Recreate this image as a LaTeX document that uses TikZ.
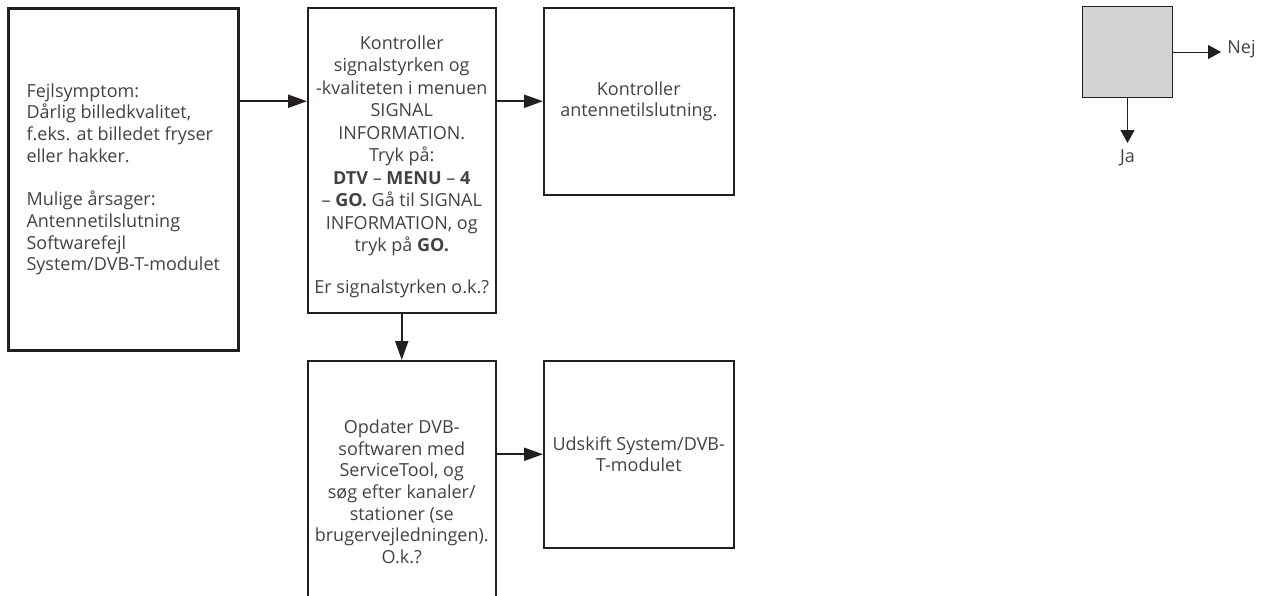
\documentclass[tikz,border=0pt]{standalone}
\usepackage{fontspec}
\setmainfont{Open Sans}
\usetikzlibrary{arrows.meta,positioning,calc}
\definecolor{ink}{HTML}{231F20}
\definecolor{keyfill}{HTML}{D3D3D5}
\tikzset{
  box/.style={draw=ink,line width=0.75pt,inner sep=0pt,anchor=north west,
    font=\fontsize{9}{10.85}\selectfont,text=ink!85},
  arrow/.style={-{Triangle[length=9.5pt,width=6.5pt]},draw=ink,line width=1pt},
  keyarrow/.style={-{Triangle[length=6.5pt,width=7pt]},draw=ink,line width=0.5pt},
  keylabel/.style={font=\fontsize{9}{10.85}\selectfont,text=ink!85,inner sep=3pt}
}

\begin{document}
\begin{tikzpicture}[x=0.5pt,y=-0.5pt]
  \useasboundingbox (0,0) rectangle (1267,595);
  \clip (0,0) rectangle (1267,595);
  % left column: symptom
  \node[box,line width=1.25pt,align=left,minimum width=115pt,minimum height=171pt]
    (sympt) at (7,7) {Fejlsymptom:\\Dårlig billedkvalitet,\\f.eks. at billedet fryser\\eller hakker.\\[10.85pt]
      Mulige årsager:\\Antennetilslutning\\Softwarefejl\\System/DVB-T-modulet};
  % middle column
  \node[box,align=center,minimum width=94pt,minimum height=152.5pt,
    font=\fontsize{9}{11.25}\selectfont] (signal) at (307,7)
    {\rule{0pt}{13.5pt}Kontroller\\signalstyrken og\\-kvaliteten i menuen\\SIGNAL\\INFORMATION.\\Tryk på:\\
      \textbf{DTV} – \textbf{MENU} – \textbf{4}\\– \textbf{GO.} Gå til SIGNAL\\INFORMATION, og\\tryk på \textbf{GO.}\\[9.75pt]
      Er signalstyrken o.k.?};
  \node[box,align=center,minimum width=94pt,minimum height=131pt] (update) at (307,360)
    {Opdater DVB-\\softwaren med\\ServiceTool, og\\søg efter kanaler/\\stationer (se\\brugervejledningen).\\O.k.?};
  % right column
  \node[box,align=center,minimum width=95pt,minimum height=93.5pt] (antenna) at (543,7)
    {Kontroller\\antennetilslutning.};
  \node[box,align=center,minimum width=95pt,minimum height=93.5pt] (module) at (543,360)
    {Udskift System/DVB-\\T-modulet};
  \draw[arrow] (sympt.east |- antenna.west) -- (signal.west |- antenna.west);
  \draw[arrow] (signal.east |- antenna.west) -- (antenna.west);
  \draw[arrow] (signal.south) -- (update.north);
  \draw[arrow] (update.east |- module.west) -- (module.west);
  % key
  \node[box,fill=keyfill,line width=0.5pt,minimum width=45pt,minimum height=45.5pt] (key) at (1082,6) {};
  \node[keylabel,anchor=west] (nej) at ($(key.east)+(24pt,1.5pt)$) {Nej};
  \node[keylabel,anchor=north] (ja) at ($(key.south)+(0,-22.5pt)$) {Ja};
  \draw[keyarrow] (key.east) -- (key.east -| nej.west);
  \draw[keyarrow] (key.south) -- (ja.north);
\end{tikzpicture}
\end{document}
